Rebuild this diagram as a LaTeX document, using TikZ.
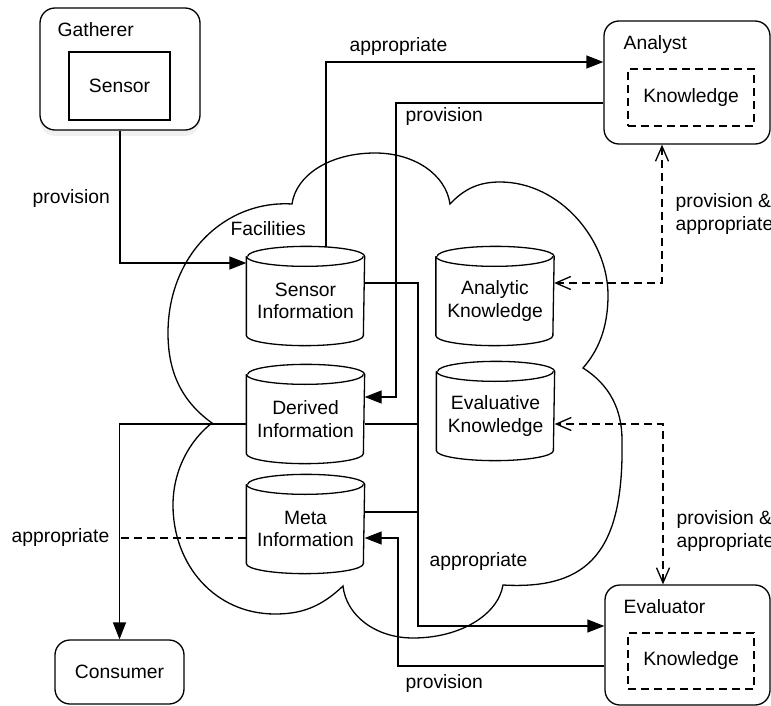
\documentclass[tikz,border=0pt]{standalone}
\usepackage{fontspec}
\setmainfont{Liberation Sans}
\usetikzlibrary{arrows.meta,calc,shadows}
\newcommand\storeoutline[1]{%
  \draw (#1.north west) -- ([yshift=10pt]#1.south west)
     arc[start angle=180,end angle=360,x radius=58.5pt,y radius=10pt]
     -- (#1.north east)
     arc[start angle=0,end angle=180,x radius=58.5pt,y radius=10pt];
  \draw (#1.north west) arc[start angle=180,end angle=360,x radius=58.5pt,y radius=10pt];
}
\begin{document}
\begin{tikzpicture}[x=1pt,y=-1pt,line width=1.3pt,
  every node/.style={font=\fontsize{19.3}{22.5}\selectfont},
  actor/.style={draw,rounded corners=15pt,inner sep=0pt},
  inbox/.style={draw,inner sep=0pt},
  know/.style={draw,dash pattern=on 8pt off 5pt,inner sep=0pt},
  store/.style={inner sep=0pt,align=center,minimum width=117pt,minimum height=88pt},
  lbl/.style={inner sep=0pt,anchor=base west},
  lbl2/.style={inner sep=0pt,anchor=west,align=left},
  flow/.style={-{Triangle[length=17pt,width=13pt]}},
  dflow/.style={dash pattern=on 8pt off 5pt},
  both/.style={dash pattern=on 8pt off 5pt,{Straight Barb[length=15pt,width=13pt]}-{Straight Barb[length=15pt,width=13pt]}}]
\useasboundingbox (0,0) rectangle (771,706);

% cloud
\draw (292,204) .. controls (296,175) and (330,153) .. (375,153)
      .. controls (415,153) and (446,175) .. (450,204)
      .. controls (465,188) and (480,182) .. (500,182)
      .. controls (560,182) and (608,240) .. (608,295)
      .. controls (608,330) and (597,352) .. (583,368)
      .. controls (610,385) and (622,410) .. (622,440)
      .. controls (624,550) and (590,590) .. (503,585)
      .. controls (498,615) and (460,638) .. (413,638)
      .. controls (375,638) and (346,615) .. (343,586)
      .. controls (320,608) and (300,614) .. (275,614)
      .. controls (215,614) and (173,565) .. (173,505)
      .. controls (173,470) and (190,440) .. (212,423)
      .. controls (180,400) and (168,370) .. (168,333)
      .. controls (168,255) and (225,200) .. (292,204) -- cycle;
\node[lbl] (fac) at (230,235) {Facilities};

% actors
\node[actor,fill=white,minimum width=160pt,minimum height=122pt,
      drop shadow={shadow xshift=0pt,shadow yshift=-6pt,opacity=0.12}] (ga) at (120,69) {};
\node[lbl] (gat) at (57,37) {Gatherer};
\node[inbox,minimum width=101pt,minimum height=68pt] (sen) at (119.5,86) {Sensor};

\node[actor,minimum width=166pt,minimum height=123pt] (an) at (687,82.5) {};
\node[lbl] (ant) at (623,50) {Analyst};
\node[know,minimum width=126pt,minimum height=57pt] (ank) at (691,97.5) {Knowledge};

\node[actor,minimum width=165pt,minimum height=120pt] (ev) at (687.5,645) {};
\node[lbl] (evt) at (623,613) {Evaluator};
\node[know,minimum width=126pt,minimum height=56pt] (evk) at (691,661) {Knowledge};

\node[actor,minimum width=129pt,minimum height=64pt] (co) at (119.5,672) {Consumer};

% stores
\node[store] (si) at (305.5,301) {Sensor\\Information};
\node[store] (di) at (305.5,419) {Derived\\Information};
\node[store] (mi) at (305.5,529) {Meta\\Information};
\node[store] (ak) at (495,301) {Analytic\\Knowledge};
\node[store] (ek) at (495.5,416) {Evaluative\\Knowledge};
\storeoutline{si}
\storeoutline{di}
\storeoutline{mi}
\storeoutline{ak}
\storeoutline{ek}

% junctions
\coordinate (j3) at (396,397);
\coordinate (j4) at (418,626);
\coordinate (j5) at (398,538);

% connectors
\draw[flow] (ga.south) |- ([yshift=38pt]si.west);
\node[lbl] (l1) at (32,203) {provision};

\draw[flow] ([xshift=20.5pt,yshift=9.4pt]si.north) |- ([yshift=20.5pt]an.west);
\node[lbl] (l2) at (349,52) {appropriate};

\draw[flow] ([yshift=-20.5pt]an.west) -| (j3) -- ([yshift=22pt]di.east);
\node[lbl] (l3) at (405,122) {provision};

\draw[flow] ([yshift=18pt]si.east) -| (j4) -- ([yshift=19pt]ev.west);
\draw ([yshift=-5pt]di.east) -- ([yshift=-5pt]di.east -| j4);
\draw ([yshift=17pt]mi.east) -- ([yshift=17pt]mi.east -| j4);
\node[lbl] (l4) at (429,566) {appropriate};

\draw[flow] ([yshift=-21pt]ev.west) -| (j5) -- ([yshift=-9pt]mi.east);
\node[lbl] (l5) at (405,688) {provision};

\draw[flow] ([yshift=-5pt]di.west) -| (co.north);
\draw[dflow] ([yshift=-9pt]mi.west) -- ([yshift=-9pt]mi.west -| co.north);
\node[lbl] (l6) at (11,542) {appropriate};

\draw[both] ([xshift=-25pt]an.south) |- ([yshift=18pt]ak.east);
\node[lbl2] (l7) at (675,214) {provision \&\\appropriate};

\draw[both] ([xshift=-24.5pt]ev.north) |- ([yshift=-8pt]ek.east);
\node[lbl2] (l8) at (676,531) {provision \&\\appropriate};
\end{tikzpicture}
\end{document}
